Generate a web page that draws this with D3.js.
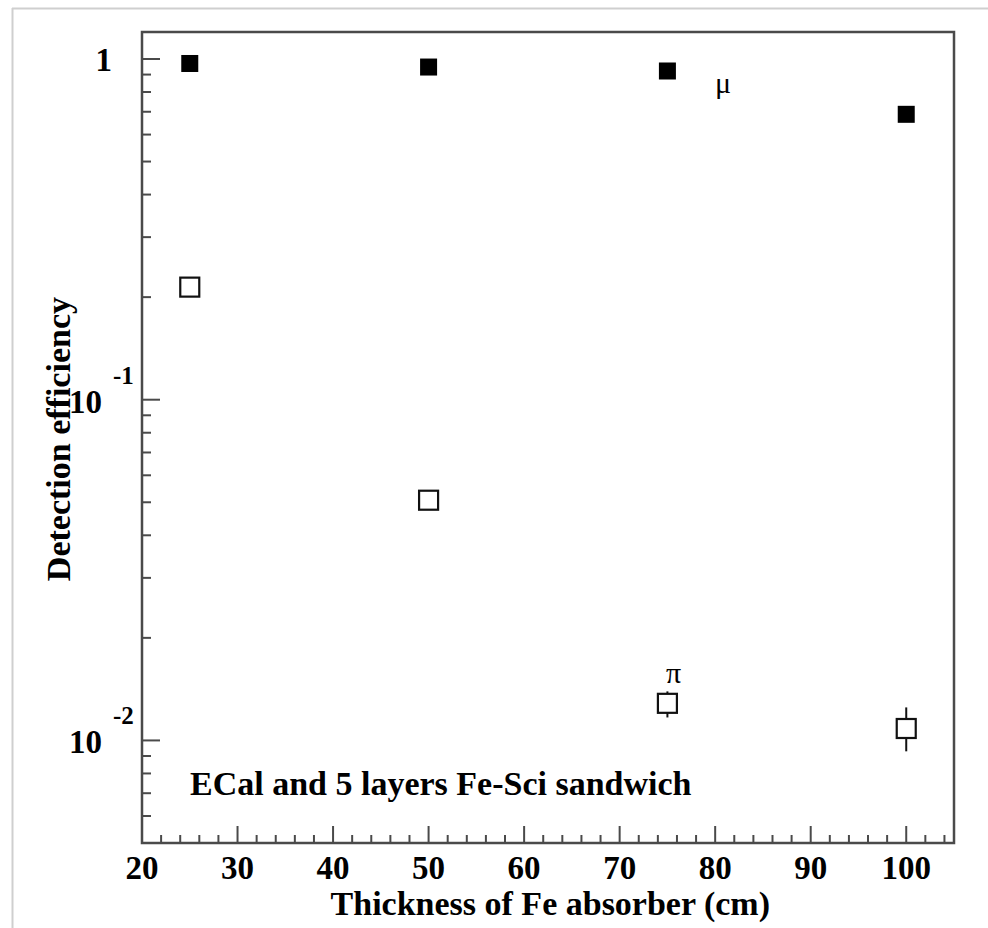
<!DOCTYPE html>
<html>
<head>
<meta charset="utf-8">
<title>Detection efficiency</title>
<script src="https://cdnjs.cloudflare.com/ajax/libs/d3/7.8.5/d3.min.js"></script>
<style>
  body { margin: 0; background: #fff; }
  text { font-family: "Liberation Serif", "Times New Roman", serif; fill: #000; }
</style>
</head>
<body>
<svg width="988" height="928"></svg>
<script>
// data
var thickness = [25, 50, 75, 100];
var muEff = [0.970, 0.947, 0.922, 0.688];
var piEff = [0.214, 0.0507, 0.01285, 0.01084];
var piLow = [0.214, 0.0507, 0.01168, 0.00929];
var piHigh = [0.214, 0.0507, 0.01393, 0.0125];
var xTicks = [20, 30, 40, 50, 60, 70, 80, 90, 100];
var yMajor = [1, 0.1, 0.01];

function draw() {
var svg = d3.select("svg");
var mLeft = 142, mRight = 954, mTop = 32, mBottom = 843;

var x = d3.scaleLinear().domain([20, 105]).range([mLeft, mRight]);
var y = d3.scaleLog().domain([0.005, 1.2]).range([mBottom, mTop]);

var axisColor = "#4a4a4a";

// light outer border of the image
svg.append("line").attr("x1", 12).attr("x2", 988).attr("y1", 8.5).attr("y2", 8.5)
  .attr("stroke", "#cfcfcf").attr("stroke-width", 2);
svg.append("line").attr("x1", 12.5).attr("x2", 12.5).attr("y1", 8).attr("y2", 928)
  .attr("stroke", "#cfcfcf").attr("stroke-width", 2);

// minor ticks
var xMinor = d3.range(22, 105, 2).filter(function(d){ return d % 10 != 0; });
var yMinor = [];
[0.001, 0.01, 0.1, 1].forEach(function(dec){
  for (var k = 2; k <= 9; k++) {
    var v = dec * k;
    if (v > 0.005 && v < 1.2) yMinor.push(v);
  }
});

var g = svg.append("g");

g.selectAll(".xt").data(xTicks).enter().append("line")
  .attr("x1", function(d){ return x(d); }).attr("x2", function(d){ return x(d); })
  .attr("y1", mBottom).attr("y2", mBottom - 17)
  .attr("stroke", axisColor).attr("stroke-width", 2);
g.selectAll(".xm").data(xMinor).enter().append("line")
  .attr("x1", function(d){ return x(d); }).attr("x2", function(d){ return x(d); })
  .attr("y1", mBottom).attr("y2", mBottom - 8)
  .attr("stroke", axisColor).attr("stroke-width", 2);
g.selectAll(".yt").data(yMajor).enter().append("line")
  .attr("x1", mLeft).attr("x2", mLeft + 18)
  .attr("y1", function(d){ return y(d); }).attr("y2", function(d){ return y(d); })
  .attr("stroke", axisColor).attr("stroke-width", 2);
g.selectAll(".ym").data(yMinor).enter().append("line")
  .attr("x1", mLeft).attr("x2", mLeft + 9)
  .attr("y1", function(d){ return y(d); }).attr("y2", function(d){ return y(d); })
  .attr("stroke", axisColor).attr("stroke-width", 2);

// frame
g.append("rect").attr("x", mLeft).attr("y", mTop)
  .attr("width", mRight - mLeft).attr("height", mBottom - mTop)
  .attr("fill", "none").attr("stroke", axisColor).attr("stroke-width", 2.5);

// x tick labels
g.selectAll(".xl").data(xTicks).enter().append("text")
  .attr("x", function(d){ return x(d); }).attr("y", 879)
  .attr("text-anchor", "middle")
  .style("font-size", "33px").style("font-weight", "bold")
  .text(function(d){ return d; });

// y tick labels (10^n style)
yMajor.forEach(function(d){
  var e = Math.round(Math.log10(d));
  var yy = y(d);
  if (e == 0) {
    g.append("text").attr("x", 112).attr("y", yy + 12)
      .attr("text-anchor", "end")
      .style("font-size", "33px").style("font-weight", "bold").text("1");
  } else {
    g.append("text").attr("x", 102).attr("y", yy + 13)
      .attr("text-anchor", "end")
      .style("font-size", "33px").style("font-weight", "bold").text("10");
    g.append("text").attr("x", 113).attr("y", yy - 16)
      .attr("text-anchor", "start")
      .style("font-size", "25px").style("font-weight", "bold").text(String(e));
  }
});

// axis titles
svg.append("text").attr("x", 770).attr("y", 915)
  .attr("text-anchor", "end")
  .style("font-size", "34px").style("font-weight", "bold")
  .text("Thickness of Fe absorber (cm)");
svg.append("text")
  .attr("transform", "translate(70,297) rotate(-90)")
  .attr("text-anchor", "end")
  .style("font-size", "34px").style("font-weight", "bold")
  .text("Detection efficiency");

// error bars for pi
var piData = thickness.map(function(t, i){
  return { x: t, v: piEff[i], lo: piLow[i], hi: piHigh[i] };
});
g.selectAll(".err").data(piData).enter().append("line")
  .attr("x1", function(d){ return x(d.x); }).attr("x2", function(d){ return x(d.x); })
  .attr("y1", function(d){ return y(d.hi); }).attr("y2", function(d){ return y(d.lo); })
  .attr("stroke", "#111").attr("stroke-width", 2);

// open squares (pi)
var s2 = 19;
g.selectAll(".pi").data(piData).enter().append("rect")
  .attr("x", function(d){ return x(d.x) - s2 / 2; })
  .attr("y", function(d){ return y(d.v) - s2 / 2; })
  .attr("width", s2).attr("height", s2)
  .attr("fill", "#fff").attr("stroke", "#111").attr("stroke-width", 2.2);

// filled squares (mu)
var s1 = 17;
g.selectAll(".mu").data(muEff).enter().append("rect")
  .attr("x", function(d, i){ return x(thickness[i]) - s1 / 2; })
  .attr("y", function(d){ return y(d) - s1 / 2; })
  .attr("width", s1).attr("height", s1)
  .attr("fill", "#000");

// labels
svg.append("text").attr("x", 715).attr("y", 93)
  .style("font-size", "30px").text("\u03bc");
svg.append("text").attr("x", 666).attr("y", 683)
  .style("font-size", "30px").text("\u03c0");
svg.append("text").attr("x", 190).attr("y", 795)
  .style("font-size", "34px").style("font-weight", "bold")
  .text("ECal and 5 layers Fe-Sci sandwich");
}
draw();
</script>
</body>
</html>
